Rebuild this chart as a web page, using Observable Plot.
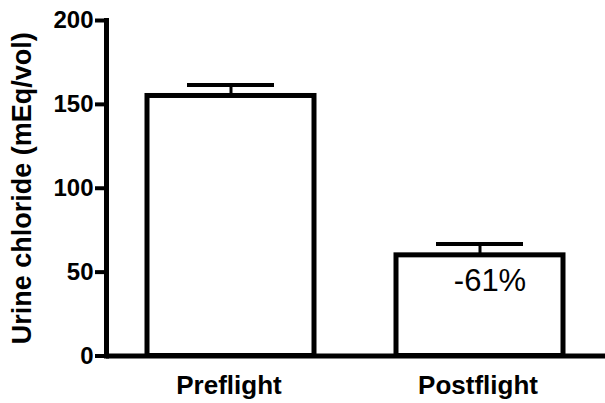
<!DOCTYPE html>
<html>
<head>
<meta charset="utf-8">
<script src="https://cdn.jsdelivr.net/npm/d3@7"></script>
<script src="https://cdn.jsdelivr.net/npm/@observablehq/plot@0.6"></script>
<style>
  html, body { margin: 0; padding: 0; background: white; }
</style>
</head>
<body>
<div id="chart"></div>
<script>
const categories = ["Preflight", "Postflight"];
const means = [155, 60];
const errors = [6.5, 6.8];
const annotations = ["", "-61%"];
const yTicks = [0, 50, 100, 150, 200];
const yLabel = "Urine chloride (mEq/vol)";

const data = categories.map((c, i) => ({cat: c, value: means[i], upper: means[i] + errors[i], note: annotations[i]}));
const font = "'Liberation Sans', Arial, Helvetica, sans-serif";

const chart = Plot.plot({
  width: 605,
  height: 403,
  marginLeft: 106,
  marginRight: 0,
  marginTop: 20,
  marginBottom: 47.5,
  style: {fontFamily: font, background: "white", color: "black", overflow: "visible"},
  x: {domain: categories, paddingInner: 0.329, paddingOuter: 0.1645, axis: null},
  y: {domain: [0, 200], axis: null},
  marks: [
    Plot.barY(data, {x: "cat", y: "value", fill: "white", stroke: "black", strokeWidth: 5}),
    Plot.ruleX(data, {x: "cat", y1: "value", y2: "upper", stroke: "black", strokeWidth: 3}),
    Plot.tickY(data, {x: "cat", y: "upper", stroke: "black", strokeWidth: 4, insetLeft: 40, insetRight: 40}),
    Plot.text(data, {x: "cat", y: "value", text: "note", dx: 10, dy: 36, lineAnchor: "bottom", fontSize: 31, fill: "black"}),
    Plot.ruleY([0], {stroke: "black", strokeWidth: 5}),
    Plot.frame({anchor: "left", stroke: "black", strokeWidth: 5}),
    Plot.axisY({ticks: yTicks, tickSize: 11, tickPadding: 2, fontSize: 24, fontWeight: "bold", strokeWidth: 4, label: null}),
    Plot.axisX({tickSize: 0, tickPadding: 20, fontSize: 26, fontWeight: "bold", dx: -2, label: null}),
    Plot.text([yLabel], {frameAnchor: "left", textAnchor: "middle", rotate: -90, dx: -84, fontSize: 27, fontWeight: "bold", fill: "black"})
  ]
});
document.getElementById("chart").appendChild(chart);
</script>
</body>
</html>
